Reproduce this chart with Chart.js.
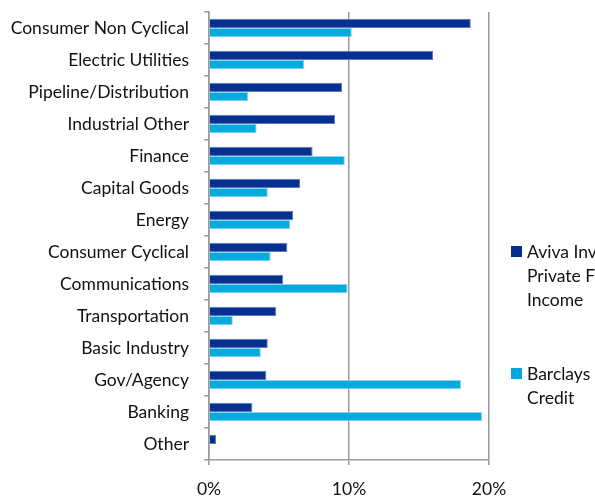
<!DOCTYPE html>
<html>
<head>
<meta charset="utf-8">
<script src="https://cdn.jsdelivr.net/npm/chart.js@4.4.1/dist/chart.umd.min.js"></script>
<style>
  html, body { margin: 0; padding: 0; background: #fff; overflow: hidden; }
  #wrap { width: 595px; height: 497px; }
</style>
</head>
<body>
<div id="wrap"><canvas id="sectorChart" width="595" height="497"></canvas></div>
<script>
const sectors = ['Consumer Non Cyclical', 'Electric Utilities', 'Pipeline/Distribution', 'Industrial Other',
  'Finance', 'Capital Goods', 'Energy', 'Consumer Cyclical', 'Communications', 'Transportation',
  'Basic Industry', 'Gov/Agency', 'Banking', 'Other'];

// % weights
const avivaWeights = [18.7, 16.0, 9.5, 9.0, 7.4, 6.5, 6.0, 5.6, 5.3, 4.8, 4.2, 4.1, 3.1, 0.5];
const barclaysWeights = [10.2, 6.8, 2.8, 3.4, 9.7, 4.2, 5.8, 4.4, 9.9, 1.7, 3.7, 18.0, 19.5, 0];

const xTicks = [0, 10, 20];
const legendLines = [['Aviva Investors', 'Private Fixed', 'Income'], ['Barclays', 'Credit']];

const darkBlue = '#05308f';
const lightBlue = '#00a9df';
const axisGrey = '#9a9a9a';

Chart.defaults.font.family = 'Lato';
Chart.defaults.font.size = 17.5;
Chart.defaults.color = '#111';

// legend drawn by hand so it wraps and runs off the right edge like the original
const sideLegend = {
  id: 'sideLegend',
  afterDraw(chart) {
    const c = chart.ctx;
    const tops = [252, 374];
    c.save();
    c.font = '17.5px Lato';
    c.textBaseline = 'middle';
    c.textAlign = 'left';
    chart.data.datasets.forEach((ds, i) => {
      c.fillStyle = ds.backgroundColor;
      c.fillRect(511, tops[i] - 6, 11, 11);
      c.fillStyle = '#111';
      legendLines[i].forEach((line, j) => {
        c.fillText(line, 527, tops[i] + j * 24);
      });
    });
    c.restore();
  }
};

new Chart(document.getElementById('sectorChart'), {
  type: 'bar',
  data: {
    labels: sectors,
    datasets: [
      {
        label: 'Aviva Investors Private Fixed Income',
        data: avivaWeights,
        backgroundColor: darkBlue,
        borderColor: '#6179b6',
        borderWidth: 1,
        borderSkipped: 'left'
      },
      {
        label: 'Barclays Credit',
        data: barclaysWeights,
        backgroundColor: lightBlue,
        borderColor: '#8ad6f0',
        borderWidth: 1,
        borderSkipped: 'left'
      }
    ]
  },
  options: {
    indexAxis: 'y',
    responsive: false,
    animation: false,
    datasets: {
      bar: { categoryPercentage: 0.58, barPercentage: 1.0 }
    },
    layout: { padding: { top: 12, right: 106, left: 0, bottom: 0 } },
    plugins: {
      legend: { display: false },
      tooltip: { enabled: false }
    },
    scales: {
      y: {
        afterFit(scale) {
          scale.width = 209;
          scale.paddingTop = 0;
          scale.paddingBottom = 0;
        },
        grid: {
          display: true,
          drawOnChartArea: false,
          offset: true,
          tickLength: 5,
          color: axisGrey,
          lineWidth: 1.5
        },
        border: { color: axisGrey, width: 1.5 },
        ticks: { padding: 15, color: '#111' }
      },
      x: {
        min: 0,
        max: 20,
        afterFit(scale) { scale.height = 37; },
        afterBuildTicks(scale) { scale.ticks = xTicks.map(v => ({ value: v })); },
        grid: {
          color: axisGrey,
          lineWidth: 1.5,
          tickLength: 5
        },
        border: { color: axisGrey, width: 1.5 },
        ticks: {
          padding: 14,
          color: '#111',
          maxRotation: 0,
          callback: v => v + '%'
        }
      }
    }
  },
  plugins: [sideLegend]
});
</script>
</body>
</html>
